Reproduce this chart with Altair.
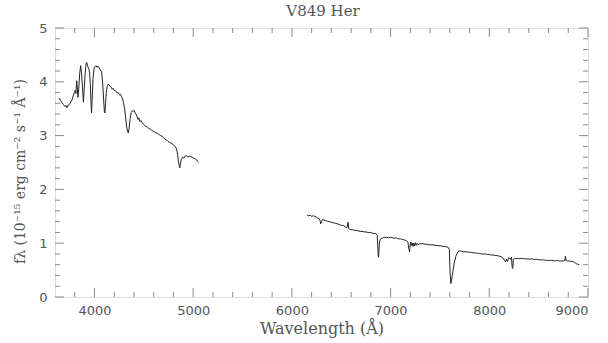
import altair as alt
import pandas as pd

# Blue spectrum segment: wavelength (Å), flux (1e-15 erg cm^-2 s^-1 Å^-1)
blue_wl = [3640, 3655, 3670, 3685, 3700, 3712, 3722, 3735, 3748, 3760, 3772, 3785, 3795, 3805,
           3812, 3820, 3826, 3832, 3840, 3850, 3860, 3868, 3878, 3888, 3895, 3905, 3915, 3922,
           3930, 3940, 3950, 3958, 3965, 3970, 3976, 3985, 3995, 4005, 4015, 4025, 4038, 4050,
           4060, 4073, 4082, 4092, 4100, 4106, 4112, 4120, 4130, 4140, 4150, 4160, 4170, 4180,
           4190, 4200, 4215, 4225, 4240, 4255, 4265, 4275, 4285, 4295, 4305, 4315, 4325, 4335,
           4342, 4350, 4360, 4372, 4382, 4392, 4402, 4412, 4422, 4432, 4442, 4450, 4460, 4470,
           4480, 4490, 4500, 4512, 4525, 4540, 4552, 4565, 4580, 4595, 4610, 4625, 4640, 4655,
           4670, 4685, 4700, 4715, 4730, 4745, 4760, 4775, 4790, 4805, 4820, 4832, 4842, 4850,
           4858, 4864, 4870, 4880, 4892, 4905, 4918, 4930, 4945, 4960, 4975, 4990, 5005, 5020,
           5035, 5045, 5055]
blue_fx = [3.70, 3.66, 3.61, 3.58, 3.54, 3.56, 3.52, 3.57, 3.58, 3.63, 3.66, 3.74, 3.80, 3.84,
           3.78, 4.02, 3.90, 3.71, 3.85, 4.15, 4.30, 4.18, 3.90, 3.62, 3.85, 4.15, 4.34, 4.36,
           4.30, 4.25, 4.18, 3.95, 3.60, 3.42, 3.65, 4.05, 4.24, 4.28, 4.30, 4.27, 4.29, 4.25,
           4.22, 4.18, 4.00, 3.70, 3.45, 3.42, 3.60, 3.80, 3.93, 3.96, 3.94, 3.91, 3.90, 3.86,
           3.88, 3.84, 3.83, 3.80, 3.80, 3.76, 3.77, 3.72, 3.68, 3.60, 3.50, 3.35, 3.18, 3.08,
           3.05, 3.12, 3.30, 3.43, 3.46, 3.45, 3.47, 3.42, 3.40, 3.35, 3.30, 3.33, 3.26, 3.28,
           3.25, 3.22, 3.21, 3.18, 3.17, 3.15, 3.13, 3.12, 3.10, 3.08, 3.07, 3.05, 3.04, 3.02,
           3.00, 2.99, 2.96, 2.93, 2.92, 2.89, 2.88, 2.86, 2.84, 2.82, 2.79, 2.75, 2.65, 2.52,
           2.45, 2.40, 2.47, 2.56, 2.60, 2.58, 2.62, 2.63, 2.60, 2.62, 2.61, 2.60, 2.58, 2.57,
           2.55, 2.52, 2.50]

# Red spectrum segment
red_wl = [6155, 6170, 6185, 6200, 6215, 6230, 6245, 6260, 6275, 6285, 6292, 6300, 6310, 6325,
          6340, 6360, 6380, 6400, 6420, 6440, 6460, 6480, 6500, 6520, 6540, 6552, 6560, 6570,
          6576, 6585, 6600, 6615, 6630, 6650, 6670, 6690, 6710, 6730, 6750, 6770, 6790, 6810,
          6830, 6850, 6864, 6870, 6876, 6880, 6886, 6895, 6910, 6925, 6940, 6960, 6980, 7000,
          7020, 7040, 7060, 7080, 7100, 7120, 7140, 7160, 7175, 7185, 7192, 7198, 7205, 7212,
          7220, 7228, 7235, 7243, 7250, 7260, 7270, 7280, 7295, 7310, 7330, 7350, 7370, 7390,
          7410, 7430, 7450, 7470, 7490, 7510, 7530, 7550, 7570, 7585, 7595, 7603, 7610, 7617,
          7625, 7635, 7645, 7660, 7675, 7690, 7705, 7720, 7740, 7760, 7780, 7800, 7820, 7840,
          7860, 7880, 7900, 7920, 7940, 7960, 7980, 8000, 8020, 8040, 8060, 8080, 8100, 8120,
          8140, 8155, 8165, 8175, 8185, 8195, 8205, 8215, 8225, 8232, 8238, 8244, 8255, 8270,
          8290, 8310, 8330, 8350, 8370, 8390, 8410, 8430, 8450, 8470, 8490, 8510, 8530, 8550,
          8570, 8590, 8610, 8630, 8650, 8670, 8690, 8710, 8730, 8750, 8765, 8772, 8778, 8790,
          8810, 8830, 8850, 8865, 8880, 8895, 8910]
red_fx = [1.52, 1.51, 1.52, 1.50, 1.51, 1.50, 1.49, 1.47, 1.46, 1.42, 1.36, 1.40, 1.44, 1.43,
          1.42, 1.41, 1.40, 1.39, 1.38, 1.37, 1.36, 1.35, 1.33, 1.33, 1.31, 1.28, 1.30, 1.39,
          1.27, 1.26, 1.25, 1.25, 1.24, 1.24, 1.23, 1.22, 1.22, 1.21, 1.21, 1.20, 1.20, 1.19,
          1.18, 1.18, 1.15, 0.95, 0.74, 0.78, 1.00, 1.07, 1.09, 1.10, 1.11, 1.11, 1.10, 1.11,
          1.10, 1.09, 1.10, 1.08, 1.08, 1.07, 1.06, 1.05, 1.02, 0.90, 0.84, 0.95, 1.02, 0.96,
          1.00, 0.94, 1.00, 0.95, 1.01, 0.96, 1.00, 0.97, 0.99, 0.99, 0.99, 0.98, 0.98, 0.97,
          0.97, 0.97, 0.96, 0.96, 0.95, 0.95, 0.94, 0.94, 0.93, 0.92, 0.88, 0.45, 0.25, 0.30,
          0.40, 0.52, 0.63, 0.75, 0.82, 0.85, 0.86, 0.85, 0.84, 0.84, 0.84, 0.83, 0.83, 0.82,
          0.82, 0.81, 0.81, 0.80, 0.80, 0.80, 0.79, 0.79, 0.78, 0.78, 0.77, 0.77, 0.76, 0.75,
          0.72, 0.68, 0.65, 0.70, 0.66, 0.73, 0.72, 0.70, 0.74, 0.55, 0.53, 0.70, 0.72, 0.71,
          0.72, 0.71, 0.72, 0.71, 0.71, 0.71, 0.70, 0.71, 0.70, 0.70, 0.70, 0.69, 0.69, 0.69,
          0.68, 0.68, 0.68, 0.68, 0.68, 0.67, 0.68, 0.67, 0.67, 0.67, 0.68, 0.76, 0.68, 0.67,
          0.67, 0.66, 0.66, 0.64, 0.62, 0.61, 0.60]

x_major = [4000, 5000, 6000, 7000, 8000, 9000]
x_minor = [3800, 4200, 4400, 4600, 4800, 5200, 5400, 5600, 5800, 6200, 6400, 6600, 6800,
           7200, 7400, 7600, 7800, 8200, 8400, 8600, 8800]
y_major = [0, 1, 2, 3, 4, 5]
y_minor = [0.2, 0.4, 0.6, 0.8, 1.2, 1.4, 1.6, 1.8, 2.2, 2.4, 2.6, 2.8, 3.2, 3.4, 3.6, 3.8,
           4.2, 4.4, 4.6, 4.8]
title_text = ["V849 Her"]

W, H = 533, 269
LINE = "#222222"
AXC = "#8a8a8a"
TXT = "#555555"

spec = pd.DataFrame({
    "wl": blue_wl + red_wl,
    "fx": blue_fx + red_fx,
    "seg": ["blue"] * len(blue_wl) + ["red"] * len(red_wl),
})

xs = alt.Scale(domain=[3600, 9000], nice=False, zero=False)
ys = alt.Scale(domain=[0, 5], nice=False, zero=True)

x_axis = alt.Axis(values=x_major, format="d", title="Wavelength (Å)", tickSize=0, domain=False,
                  grid=False, labelPadding=7, labelFontSize=13, labelFont="DejaVu Sans",
                  labelColor=TXT, titleFont="DejaVu Serif", titleFontSize=16,
                  titleFontWeight="normal", titleColor=TXT, titlePadding=3)
y_axis = alt.Axis(values=y_major, format="d", title="fλ (10⁻¹⁵ erg cm⁻² s⁻¹ Å⁻¹)", tickSize=0,
                  domain=False, grid=False, labelPadding=8, labelFontSize=13,
                  labelFont="DejaVu Sans", labelColor=TXT, titleFont="DejaVu Serif",
                  titleFontSize=14, titleFontWeight="normal", titleColor=TXT, titlePadding=11,
                  titleY=143)

line = alt.Chart(spec).mark_line(color=LINE, strokeWidth=1).encode(
    x=alt.X("wl:Q", scale=xs, axis=x_axis),
    y=alt.Y("fx:Q", scale=ys, axis=y_axis),
    detail="seg:N",
)

title = alt.Chart(pd.DataFrame({"t": title_text})).mark_text(
    font="DejaVu Serif", fontSize=15, color=TXT, align="center", baseline="middle"
).encode(text="t:N", x=alt.value(268), y=alt.value(-17))

def xticks(vals, length):
    df = pd.DataFrame({"v": vals})
    base = alt.Chart(df).mark_rule(color=AXC, strokeWidth=1)
    bot = base.encode(x=alt.X("v:Q", scale=xs), y=alt.value(H), y2=alt.value(H - length))
    top = base.encode(x=alt.X("v:Q", scale=xs), y=alt.value(0), y2=alt.value(length))
    return [bot, top]

def yticks(vals, length):
    df = pd.DataFrame({"v": vals})
    base = alt.Chart(df).mark_rule(color=AXC, strokeWidth=1)
    lft = base.encode(y=alt.Y("v:Q", scale=ys), x=alt.value(0), x2=alt.value(length))
    rgt = base.encode(y=alt.Y("v:Q", scale=ys), x=alt.value(W), x2=alt.value(W - length))
    return [lft, rgt]

layers = ([line, title] + xticks(x_major, 9) + xticks(x_minor, 5)
          + yticks(y_major, 9) + yticks(y_minor, 5))

chart = alt.layer(*layers).properties(
    width=W, height=H,
    padding={"left": 55, "top": 28, "right": 20, "bottom": 46},
    autosize="none",
).configure_view(stroke=AXC, strokeWidth=1).configure(background="white")

chart.save("out.html", embed_options={"renderer": "svg", "actions": False})
